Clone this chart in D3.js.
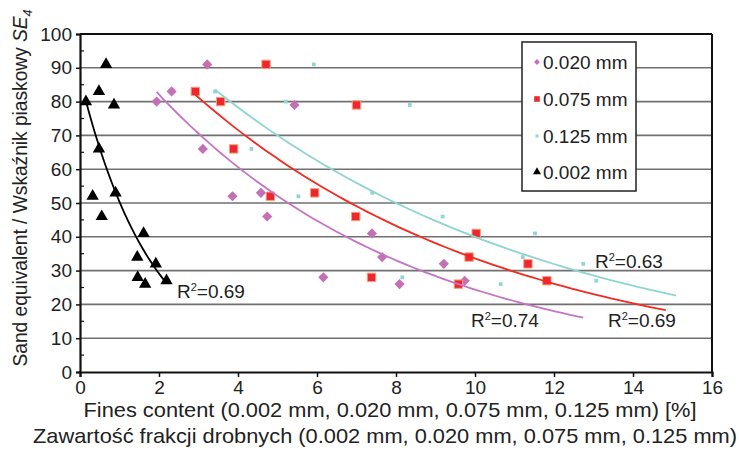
<!DOCTYPE html>
<html>
<head>
<meta charset="utf-8">
<script src="https://cdn.jsdelivr.net/npm/d3@7"></script>
<style>
  html, body { margin: 0; padding: 0; background: #fff; }
  svg { display: block; font-family: "Liberation Sans", Arial, sans-serif; }
</style>
</head>
<body>
<svg id="chart" width="739" height="451"></svg>
<script>
// ---- data ----
const seValues = [80, 83, 91, 79, 66, 52, 53, 46, 41, 34, 28, 26, 32, 27];
const fines002 = [0.15, 0.48, 0.66, 0.86, 0.48, 0.32, 0.90, 0.55, 1.61, 1.45, 1.46, 1.65, 1.92, 2.19];
const fines020 = [1.94, 2.32, 3.22, 5.43, 3.11, 3.86, 4.58, 4.74, 7.39, 7.65, 6.16, 8.09, 9.21, 9.74];
const fines075 = [3.56, 2.92, 4.71, 7.00, 3.89, 4.82, 5.94, 6.98, 10.03, 9.85, 7.38, 9.58, 11.34, 11.82];
const fines125 = [5.21, 3.42, 5.92, 8.35, 4.34, 5.53, 7.40, 9.18, 11.52, 11.21, 8.16, 10.65, 12.74, 13.07];

const seriesNames = ["0.020 mm", "0.075 mm", "0.125 mm", "0.002 mm"];
// exponential trend lines y = a * exp(b * x)
const trendA = [111.2, 118.5, 122.5, 87.0];
const trendB = [-0.1517, -0.126, -0.112, -0.547];
const trendFrom = [1.94, 2.92, 3.42, 0.15];
const trendTo = [12.74, 14.83, 15.09, 2.19];
const r2Labels = ["0.74", "0.69", "0.63", "0.69"];

const xTicks = [0, 2, 4, 6, 8, 10, 12, 14, 16];
const yTicks = [0, 10, 20, 30, 40, 50, 60, 70, 80, 90, 100];
const yMinorTicks = [5, 15, 25, 35, 45, 55, 65, 75, 85, 95];

// ---- drawing ----
const svg = d3.select("#chart");
const x = d3.scaleLinear().domain([0, 16]).range([80, 712]);
const y = d3.scaleLinear().domain([0, 100]).range([372, 34]);

const fines = [fines020, fines075, fines125, fines002];
const styles = [
  { shape: d3.symbolDiamond2, size: 66, fill: "#c46fb6", stroke: "none", line: "#c474c4", lsize: 22 },
  { shape: d3.symbolSquare2, size: 90, fill: "#ee2631", stroke: "#f6a278", line: "#f22a20", lsize: 40 },
  { shape: d3.symbolSquare2, size: 18, fill: "#91d6d0", stroke: "none", line: "#8fd5cf", lsize: 12 },
  { shape: d3.symbolTriangle, size: 66, fill: "#000", stroke: "none", line: "#000", lsize: 28 }
];

// gridlines
svg.append("g").selectAll("line").data(yTicks.filter(d => d > 0 && d < 100)).join("line")
  .attr("x1", x(0)).attr("x2", x(16))
  .attr("y1", d => y(d)).attr("y2", d => y(d))
  .attr("stroke", "#707070").attr("stroke-width", 1.6);

// frame (top and right)
svg.append("line").attr("x1", x(0)).attr("x2", x(16)).attr("y1", y(100)).attr("y2", y(100))
  .attr("stroke", "#111").attr("stroke-width", 2.2);
svg.append("line").attr("x1", x(16)).attr("x2", x(16)).attr("y1", y(100)).attr("y2", y(0))
  .attr("stroke", "#111").attr("stroke-width", 2);

// axes
const yAxis = svg.append("g").attr("transform", `translate(${x(0)},0)`)
  .call(d3.axisLeft(y).tickValues(yTicks).tickSize(4).tickPadding(4).tickFormat(d3.format("d")));
const xAxis = svg.append("g").attr("transform", `translate(0,${y(0)})`)
  .call(d3.axisBottom(x).tickValues(xTicks).tickSize(5).tickPadding(3).tickFormat(d3.format("d")));
[yAxis, xAxis].forEach(g => {
  g.select(".domain").attr("stroke", "#111").attr("stroke-width", 2.2);
  g.selectAll(".tick line").attr("stroke", "#111").attr("stroke-width", 1.5);
  g.selectAll("text").attr("fill", "#222").style("font-size", "19px")
    .style("font-family", "'Liberation Sans', Arial, sans-serif");
});
xAxis.selectAll(".tick text").attr("dy", "0.75em");
svg.append("g").selectAll("line").data(yMinorTicks).join("line")
  .attr("x1", x(0)).attr("x2", x(0) + 4)
  .attr("y1", d => y(d)).attr("y2", d => y(d))
  .attr("stroke", "#111").attr("stroke-width", 1.2);

// markers
fines.forEach((xs, i) => {
  const st = styles[i];
  const sym = d3.symbol().type(st.shape).size(st.size);
  svg.append("g").selectAll("path").data(xs.map((v, j) => [v, seValues[j]])).join("path")
    .attr("transform", d => `translate(${x(d[0])},${y(d[1])})`)
    .attr("d", sym)
    .attr("fill", st.fill)
    .attr("stroke", st.stroke)
    .attr("stroke-width", st.stroke === "none" ? 0 : 1);
});

// trend lines
const lineGen = d3.line().x(d => x(d[0])).y(d => y(d[1]));
fines.forEach((xs, i) => {
  const pts = d3.range(0, 61).map(k => {
    const xv = trendFrom[i] + (trendTo[i] - trendFrom[i]) * k / 60;
    return [xv, trendA[i] * Math.exp(trendB[i] * xv)];
  });
  svg.append("path").attr("d", lineGen(pts)).attr("fill", "none")
    .attr("stroke", styles[i].line).attr("stroke-width", 1.8);
});

// R² labels
const r2Pos = [[471, 327], [608, 327], [595, 268], [177, 298]];
r2Labels.forEach((lab, i) => {
  const t = svg.append("text").attr("x", r2Pos[i][0]).attr("y", r2Pos[i][1])
    .attr("fill", "#222").style("font-size", "19px");
  t.append("tspan").text("R");
  t.append("tspan").attr("dy", -7).style("font-size", "11px").text("2");
  t.append("tspan").attr("dy", 7).text("=" + lab);
});

// legend
const lg = svg.append("g");
lg.append("rect").attr("x", 522).attr("y", 42).attr("width", 114).attr("height", 149)
  .attr("fill", "#fff").attr("stroke", "#222").attr("stroke-width", 1.5);
const legendRows = [62, 99, 136, 172];
seriesNames.forEach((name, i) => {
  const st = styles[i];
  lg.append("path").attr("transform", `translate(537,${legendRows[i]})`)
    .attr("d", d3.symbol().type(st.shape).size(st.lsize)).attr("fill", st.fill);
  lg.append("text").attr("x", 543).attr("y", legendRows[i]).attr("dy", "0.36em")
    .attr("fill", "#222").style("font-size", "19px").text(name);
});

// axis titles
svg.append("text").attr("x", 390).attr("y", 417).attr("text-anchor", "middle")
  .attr("fill", "#222").style("font-size", "21px")
  .attr("textLength", 613).attr("lengthAdjust", "spacingAndGlyphs")
  .text("Fines content (0.002 mm, 0.020 mm, 0.075 mm, 0.125 mm) [%]");
svg.append("text").attr("x", 385).attr("y", 443).attr("text-anchor", "middle")
  .attr("fill", "#222").style("font-size", "21px")
  .attr("textLength", 704).attr("lengthAdjust", "spacingAndGlyphs")
  .text("Zawartość frakcji drobnych (0.002 mm, 0.020 mm, 0.075 mm, 0.125 mm)");

const yt = svg.append("text").attr("transform", "translate(27,188) rotate(-90)")
  .attr("text-anchor", "middle").attr("fill", "#222").style("font-size", "20px")
  .attr("textLength", 357).attr("lengthAdjust", "spacingAndGlyphs");
yt.append("tspan").text("Sand equivalent / Wskaźnik piaskowy ");
yt.append("tspan").style("font-style", "italic").text("SE");
yt.append("tspan").attr("dy", 5).style("font-size", "13px").style("font-style", "italic").text("4");
</script>
</body>
</html>
